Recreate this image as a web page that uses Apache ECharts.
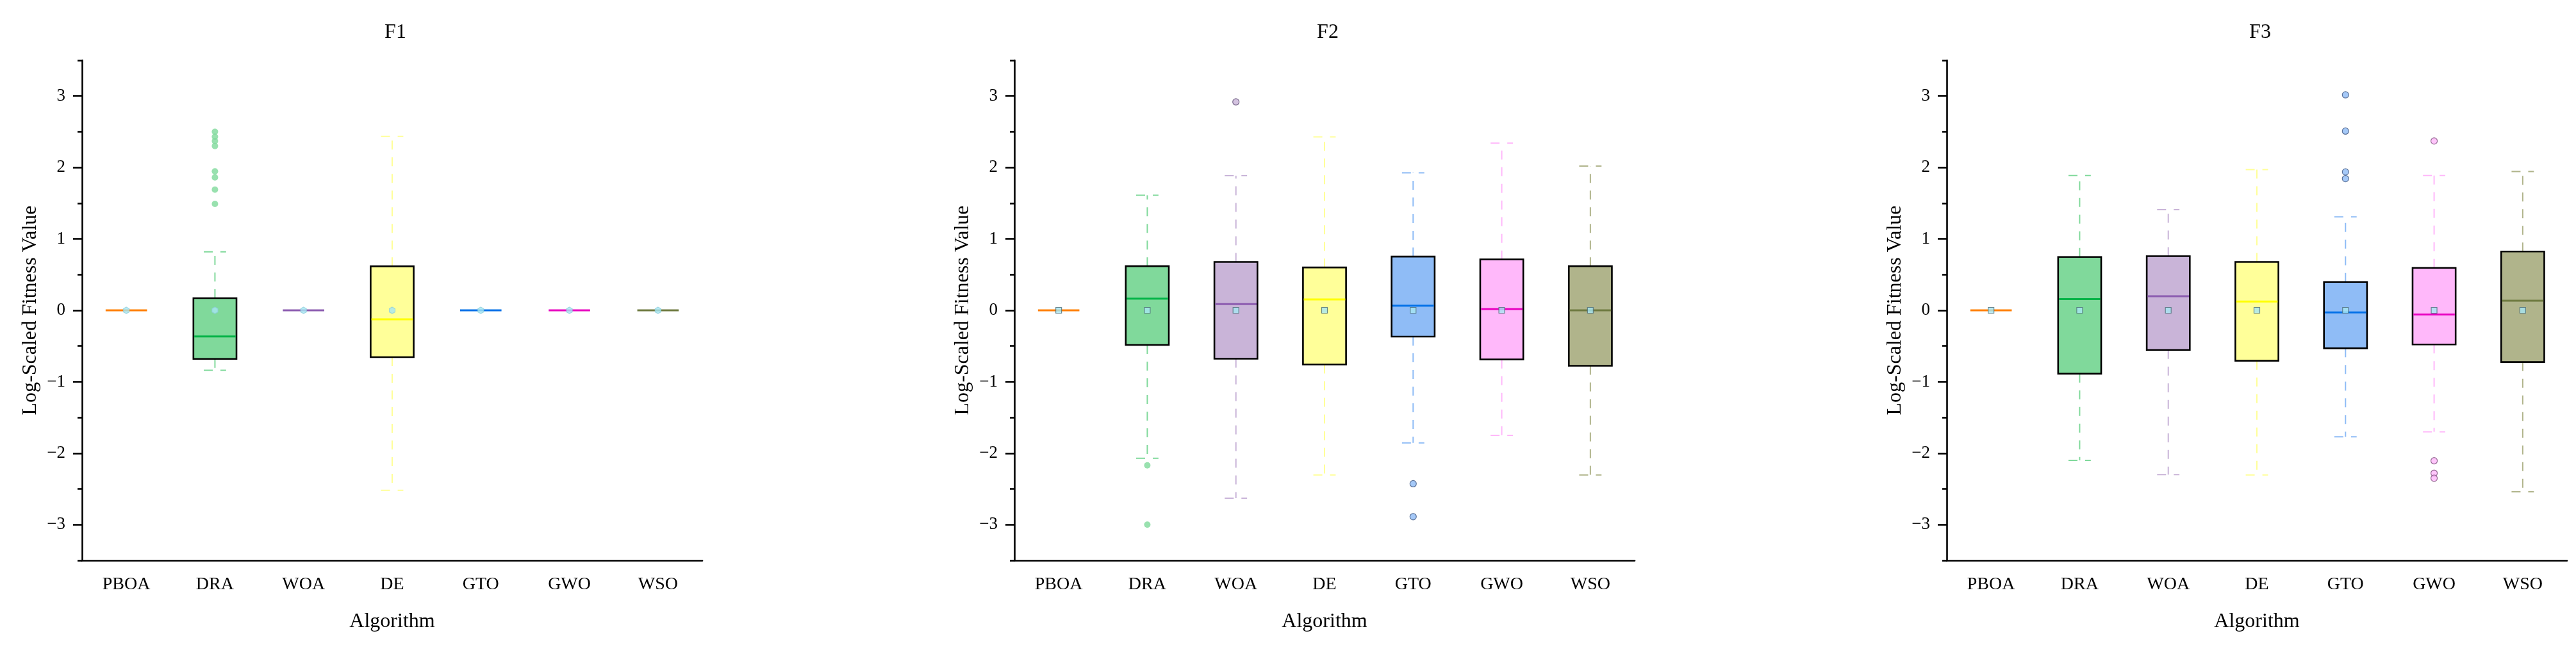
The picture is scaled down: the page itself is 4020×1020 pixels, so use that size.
<!DOCTYPE html>
<html>
<head>
<meta charset="utf-8">
<title>Log-Scaled Fitness Value by Algorithm</title>
<script src="https://cdn.jsdelivr.net/npm/echarts@6/dist/echarts.min.js"></script>
<style>
    html, body { margin: 0; padding: 0; background: #ffffff; }
    #chart { width: 4020px; height: 1020px; }
</style>
</head>
<body>
<div id="chart"></div>
<script>
const algorithms = ['PBOA', 'DRA', 'WOA', 'DE', 'GTO', 'GWO', 'WSO'];
const majorTicks = [-3, -2, -1, 0, 1, 2, 3];
const minorTicks = [-3.5, -2.5, -1.5, -0.5, 0.5, 1.5, 2.5, 3.5];

// F1
const f1Min = [0, -0.84, 0, -2.52, 0, 0, 0];
const f1Q1 = [0, -0.68, 0, -0.655, 0, 0, 0];
const f1Median = [0, -0.365, 0, -0.125, 0, 0, 0];
const f1Q3 = [0, 0.17, 0, 0.616, 0, 0, 0];
const f1Max = [0, 0.818, 0, 2.435, 0, 0, 0];
const f1Mean = [0, 0, 0, 0, 0, 0, 0];
const f1Outliers = [[1, 2.50], [1, 2.43], [1, 2.37], [1, 2.30], [1, 1.945], [1, 1.86], [1, 1.69], [1, 1.49]];

// F2
const f2Min = [0, -2.07, -2.63, -2.305, -1.855, -1.75, -2.305];
const f2Q1 = [0, -0.484, -0.677, -0.758, -0.368, -0.688, -0.776];
const f2Median = [0, 0.163, 0.088, 0.152, 0.064, 0.018, 0.0];
const f2Q3 = [0, 0.618, 0.677, 0.60, 0.753, 0.712, 0.618];
const f2Max = [0, 1.61, 1.885, 2.427, 1.925, 2.34, 2.02];
const f2Mean = [0, 0, 0, 0, 0, 0, 0];
const f2Outliers = [[1, -2.17], [1, -3.0], [2, 2.917], [4, -2.427], [4, -2.888]];

// F3
const f3Min = [0, -2.10, -2.30, -2.305, -1.77, -1.70, -2.54];
const f3Q1 = [0, -0.887, -0.554, -0.706, -0.531, -0.478, -0.724];
const f3Median = [0, 0.158, 0.198, 0.123, -0.03, -0.058, 0.134];
const f3Q3 = [0, 0.747, 0.759, 0.677, 0.397, 0.595, 0.823];
const f3Max = [0, 1.886, 1.41, 1.97, 1.307, 1.886, 1.944];
const f3Mean = [0, 0, 0, 0, 0, 0, 0];
const f3Outliers = [[4, 3.016], [4, 2.509], [4, 1.937], [4, 1.844], [5, 2.37], [5, -2.106], [5, -2.28], [5, -2.35]];

const boxFill = ['#ff8000', '#80d99b', '#c9b4d8', '#ffff99', '#8fbcf6', '#ffb8fa', '#b0b48b'];
const medianColor = ['#ff8000', '#00b346', '#8c5cb0', '#ffff00', '#0070e8', '#e800c0', '#6e7a40'];
const outlierBorder = ['#555555', 'transparent', '#5a4a70', '#555555', '#3d5580', '#7a4a78', '#555555'];

const fontFamily = '"Liberation Serif", "Times New Roman", serif';
const hexagon = 'path://M5,0 L10,2.9 L10,8.7 L5,11.6 L0,8.7 L0,2.9 Z';

const panels = [
    { name: 'F1', min: f1Min, q1: f1Q1, median: f1Median, q3: f1Q3, max: f1Max, mean: f1Mean, outliers: f1Outliers, meanSymbol: hexagon, meanSize: [9, 10], meanBorder: '#8fd0dc' },
    { name: 'F2', min: f2Min, q1: f2Q1, median: f2Median, q3: f2Q3, max: f2Max, mean: f2Mean, outliers: f2Outliers, meanSymbol: 'rect', meanSize: 9, meanBorder: '#4e6e78' },
    { name: 'F3', min: f3Min, q1: f3Q1, median: f3Median, q3: f3Q3, max: f3Max, mean: f3Mean, outliers: f3Outliers, meanSymbol: 'rect', meanSize: 9, meanBorder: '#4e6e78' },
];

const gridLeft = 128;
const gridStep = 1455;
const gridWidth = 968;
const gridTop = 94;
const gridHeight = 780;

const minus = (value) => String(value).replace('-', '\u2212');

const renderBox = (params, api) => {
    const idx = api.value(0);
    const cx = api.coord([idx, 0])[0];
    const yLow = api.coord([idx, api.value(1)])[1];
    const yQ1 = api.coord([idx, api.value(2)])[1];
    const yMed = api.coord([idx, api.value(3)])[1];
    const yQ3 = api.coord([idx, api.value(4)])[1];
    const yHigh = api.coord([idx, api.value(5)])[1];
    const band = api.size([1, 0])[0];
    const half = band * 0.243;
    const cap = band * 0.126;
    const whisker = { stroke: boxFill[idx], lineWidth: 2, lineDash: [14, 12] };
    const children = [];

    if (yHigh < yQ3 - 0.5) {
        children.push({ type: 'line', shape: { x1: cx, y1: yQ3, x2: cx, y2: yHigh }, style: whisker });
        children.push({ type: 'line', shape: { x1: cx - cap, y1: yHigh, x2: cx + cap, y2: yHigh }, style: whisker });
    }
    if (yLow > yQ1 + 0.5) {
        children.push({ type: 'line', shape: { x1: cx, y1: yQ1, x2: cx, y2: yLow }, style: whisker });
        children.push({ type: 'line', shape: { x1: cx - cap, y1: yLow, x2: cx + cap, y2: yLow }, style: whisker });
    }
    if (yQ1 > yQ3 + 0.5) {
        children.push({
            type: 'rect',
            shape: { x: cx - half, y: yQ3, width: half * 2, height: yQ1 - yQ3 },
            style: { fill: boxFill[idx], stroke: '#000000', lineWidth: 2.6 },
        });
    }
    children.push({
        type: 'line',
        shape: { x1: cx - half + 1.3, y1: yMed, x2: cx + half - 1.3, y2: yMed },
        style: { stroke: medianColor[idx], lineWidth: 3 },
    });

    return { type: 'group', children };
};

const grid = [];
const xAxis = [];
const yAxis = [];
const title = [];
const series = [];

panels.forEach((panel, p) => {
    const left = gridLeft + gridStep * p;

    grid.push({ left, top: gridTop, width: gridWidth, height: gridHeight, containLabel: false });

    title.push({
        text: panel.name,
        left: left + gridWidth / 2,
        top: 30,
        textAlign: 'center',
        textStyle: { fontFamily, fontSize: 32, fontWeight: 'normal', color: '#000000' },
    });

    xAxis.push({
        type: 'category',
        gridIndex: p,
        data: algorithms,
        boundaryGap: true,
        name: 'Algorithm',
        nameLocation: 'middle',
        nameGap: 80,
        nameTextStyle: { fontFamily, fontSize: 32, color: '#000000' },
        axisLine: { onZero: false, lineStyle: { color: '#000000', width: 2.6 } },
        axisTick: { alignWithLabel: true, length: 14, lineStyle: { color: '#000000', width: 2.6 } },
        axisLabel: { fontFamily, fontSize: 28, color: '#000000', margin: 24 },
        splitLine: { show: false },
    });

    yAxis.push({
        type: 'value',
        gridIndex: p,
        position: 'left',
        min: -3.5,
        max: 3.5,
        interval: 0.5,
        name: 'Log-Scaled Fitness Value',
        nameLocation: 'middle',
        nameGap: 64,
        nameTextStyle: { fontFamily, fontSize: 32, color: '#000000' },
        axisLine: { show: true, onZero: false, lineStyle: { color: '#000000', width: 2.6 } },
        axisTick: { show: true, length: 14, customValues: majorTicks, lineStyle: { color: '#000000', width: 2.6 } },
        axisLabel: { fontFamily, fontSize: 27, color: '#000000', margin: 26, customValues: majorTicks, formatter: minus },
        splitLine: { show: false },
    });

    yAxis.push({
        type: 'value',
        gridIndex: p,
        position: 'left',
        min: -3.5,
        max: 3.5,
        interval: 0.5,
        axisLine: { show: false, onZero: false },
        axisTick: { show: true, length: 7, customValues: minorTicks, lineStyle: { color: '#000000', width: 2.6 } },
        axisLabel: { show: false },
        splitLine: { show: false },
    });

    series.push({
        type: 'custom',
        name: panel.name + ' box',
        xAxisIndex: p,
        yAxisIndex: p * 2,
        renderItem: renderBox,
        encode: { x: 0, y: [1, 2, 3, 4, 5] },
        data: algorithms.map((_, i) => [i, panel.min[i], panel.q1[i], panel.median[i], panel.q3[i], panel.max[i]]),
        z: 2,
        silent: true,
    });

    series.push({
        type: 'scatter',
        name: panel.name + ' outliers',
        xAxisIndex: p,
        yAxisIndex: p * 2,
        symbol: 'circle',
        symbolSize: 10,
        data: panel.outliers.map(([i, v]) => ({
            value: [i, v],
            itemStyle: { color: boxFill[i], borderColor: outlierBorder[i], borderWidth: outlierBorder[i] === 'transparent' ? 0 : 1.2 },
        })),
        z: 3,
    });

    series.push({
        type: 'scatter',
        name: panel.name + ' mean',
        xAxisIndex: p,
        yAxisIndex: p * 2,
        symbol: panel.meanSymbol,
        symbolSize: panel.meanSize,
        itemStyle: { color: '#a6e6f2', borderColor: panel.meanBorder, borderWidth: 1.2 },
        data: panel.mean.map((v, i) => [i, v]),
        z: 4,
    });
});

const chart = echarts.init(document.getElementById('chart'), null, { renderer: 'canvas' });
chart.setOption({
    animation: false,
    backgroundColor: '#ffffff',
    textStyle: { fontFamily },
    title,
    grid,
    xAxis,
    yAxis,
    series,
});
</script>
</body>
</html>
